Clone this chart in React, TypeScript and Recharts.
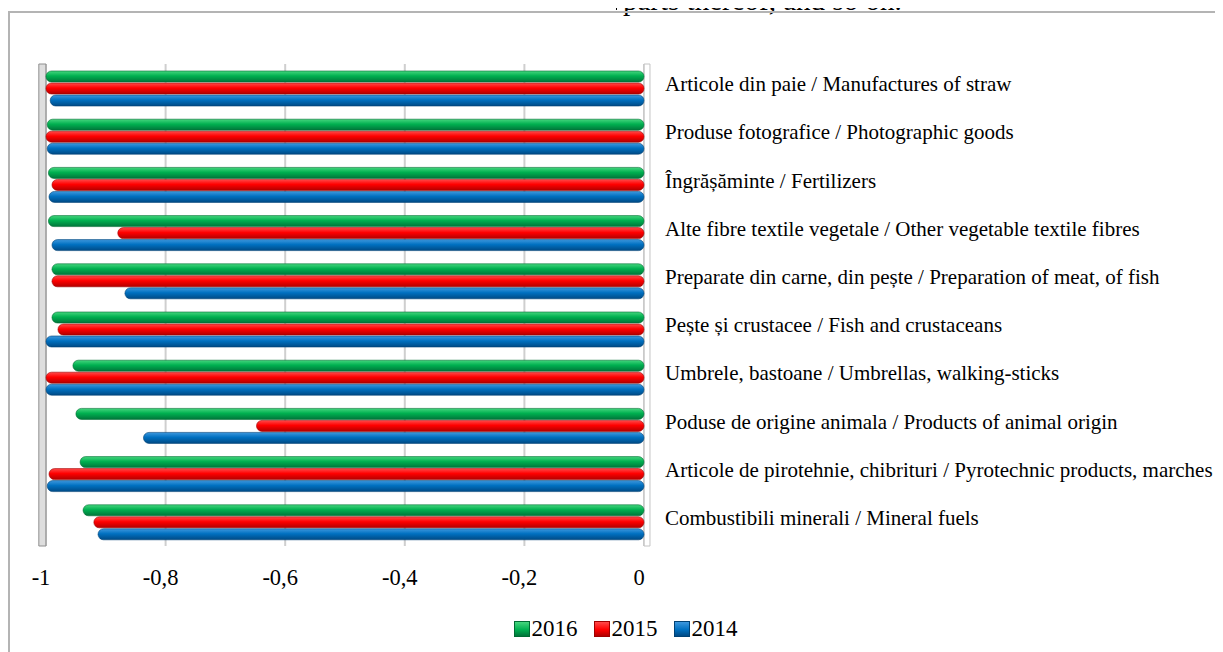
import React from 'react';
import { BarChart, Bar, XAxis, YAxis, CartesianGrid, Legend, ReferenceArea } from 'recharts';

// products, top to bottom as drawn
const categories = [
  'Articole din paie / Manufactures of straw',
  'Produse fotografice / Photographic goods',
  'Îngrășăminte / Fertilizers',
  'Alte fibre textile vegetale / Other vegetable textile fibres',
  'Preparate din carne, din pește / Preparation of meat, of fish',
  'Pește și crustacee / Fish and crustaceans',
  'Umbrele, bastoane / Umbrellas, walking-sticks',
  'Poduse de origine animala / Products of animal origin',
  'Articole de pirotehnie, chibrituri / Pyrotechnic products, marches',
  'Combustibili minerali / Mineral fuels',
];

const v2016 = [-1, -0.998, -0.996, -0.996, -0.99, -0.99, -0.955, -0.95, -0.943, -0.938];
const v2015 = [-1, -1, -0.99, -0.88, -0.99, -0.98, -1, -0.648, -0.995, -0.92];
const v2014 = [-0.993, -0.998, -0.995, -0.99, -0.868, -1, -1, -0.837, -0.998, -0.913];

const xTicks = [-1, -0.8, -0.6, -0.4, -0.2, 0];

const data = categories.map((name, i) => ({
  name,
  y2016: v2016[i],
  y2015: v2015[i],
  y2014: v2014[i],
}));

const serif = "'Liberation Serif', 'DejaVu Serif', 'Noto Serif', serif";

const series = [
  { key: 'y2016', label: '2016', id: 'gGreen', top: '#45d67e', mid: '#00b050', bot: '#00753a', edge: '#006b33' },
  { key: 'y2015', label: '2015', id: 'gRed', top: '#ff4a4a', mid: '#ff0000', bot: '#b20000', edge: '#a00000' },
  { key: 'y2014', label: '2014', id: 'gBlue', top: '#3d98de', mid: '#0070c0', bot: '#004a85', edge: '#004275' },
];

function CatTick(props: any) {
  const { x, y, payload } = props;
  return (
    <text x={x} y={y} dy={3} fontSize={21} style={{ fontFamily: serif }} fill="#000" textAnchor="start">
      {payload.value}
    </text>
  );
}

function LegendBox() {
  return (
    <div style={{ display: 'flex', justifyContent: 'center', alignItems: 'center', height: 46, paddingRight: 18, fontFamily: serif, fontSize: 23 }}>
      {series.map((s) => (
        <span key={s.key} style={{ display: 'flex', alignItems: 'center', margin: '0 8px' }}>
          <span style={{ width: 14, height: 14, display: 'inline-block', marginRight: 2, background: `linear-gradient(${s.top}, ${s.mid} 55%, ${s.bot})`, border: `1px solid ${s.edge}` }} />
          {s.label}
        </span>
      ))}
    </div>
  );
}

export default function App() {
  return (
    <div style={{ position: 'relative', width: 1215, height: 644, fontFamily: serif }}>
      <svg width={420} height={20} style={{ position: 'absolute', left: 600, top: -8 }}>
        <line x1={8.5} y1={0} x2={8.5} y2={11} stroke="#000" strokeDasharray="2 2" />
        <text x={15} y={10} fontSize={29} style={{ fontFamily: serif }} fill="#000">
          parts thereof, and so on.
        </text>
      </svg>
      <div style={{ position: 'absolute', left: 0, top: 3, width: 1215, height: 641, borderTop: '2px solid #b4b4b4', borderLeft: '2px solid #b4b4b4', boxSizing: 'border-box', background: 'transparent' }} />
      <BarChart
        width={1215}
        height={644}
        data={data}
        layout="vertical"
        margin={{ top: 56, right: 0, left: 38, bottom: 0 }}
        barSize={11}
        barGap={1}
        style={{ position: 'absolute', left: 0, top: 0 }}
      >
        <defs>
          {series.map((s) => (
            <linearGradient key={s.id} id={s.id} x1="0" y1="0" x2="0" y2="1">
              <stop offset="0%" stopColor={s.top} />
              <stop offset="45%" stopColor={s.mid} />
              <stop offset="100%" stopColor={s.bot} />
            </linearGradient>
          ))}
        </defs>
        <CartesianGrid horizontal={false} stroke="#cfcfcf" strokeWidth={2} />
        <ReferenceArea x1={-1.012} x2={-1} ifOverflow="visible" fill="#bdbdbd" stroke="#909090" />
        <ReferenceArea x1={0} x2={0.01} ifOverflow="visible" fill="#ffffff" stroke="#c4c4c4" />
        <XAxis
          type="number"
          domain={[-1, 0]}
          ticks={xTicks}
          axisLine={false}
          tickLine={false}
          height={60}
          tickMargin={17}
          dx={-5}
          tickFormatter={(v: number) => String(v).replace('.', ',')}
          tick={{ fontSize: 22.5, fill: '#000', style: { fontFamily: serif } }}
        />
        <YAxis
          type="category"
          dataKey="name"
          orientation="right"
          width={579}
          axisLine={false}
          tickLine={false}
          tickMargin={15}
          interval={0}
          tick={<CatTick />}
        />
        <Legend verticalAlign="bottom" content={<LegendBox />} />
        {series.map((s) => (
          <Bar
            key={s.key}
            dataKey={s.key}
            name={s.label}
            fill={`url(#${s.id})`}
            stroke={s.edge}
            strokeWidth={0.6}
            radius={5.5}
            isAnimationActive={false}
          />
        ))}
      </BarChart>
    </div>
  );
}
